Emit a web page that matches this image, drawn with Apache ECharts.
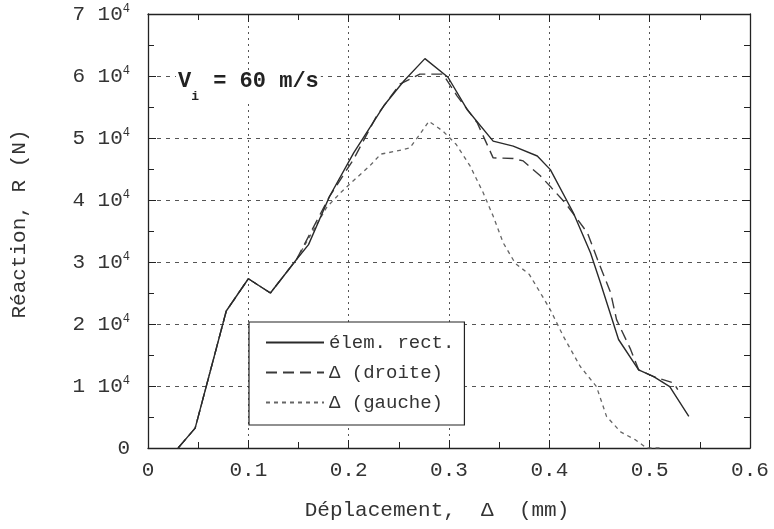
<!DOCTYPE html>
<html>
<head>
<meta charset="utf-8">
<script src="https://cdn.jsdelivr.net/npm/echarts@6/dist/echarts.min.js"></script>
<style>
  html, body { margin: 0; padding: 0; background: #fff; }
  #chart { width: 774px; height: 529px; }
</style>
</head>
<body>
<div id="chart"></div>
<script>
const FONT = '"Liberation Mono", "Courier New", monospace';

// séries (x en mm, y en unités de 10^4 N)
const seriesNames = ['élem. rect.', 'Δ (droite)', 'Δ (gauche)'];

const rectX = [0.030, 0.047, 0.078, 0.100, 0.122, 0.148, 0.160, 0.181, 0.205, 0.235, 0.255, 0.276, 0.299, 0.318, 0.344, 0.364, 0.388, 0.401, 0.424, 0.441, 0.451, 0.469, 0.489, 0.504, 0.520, 0.539];
const rectY = [0, 0.32, 2.21, 2.73, 2.50, 3.04, 3.28, 4.06, 4.76, 5.52, 5.92, 6.28, 5.98, 5.46, 4.95, 4.87, 4.71, 4.49, 3.79, 3.15, 2.66, 1.75, 1.26, 1.15, 0.99, 0.51];

const droiteX = [0.030, 0.047, 0.078, 0.100, 0.122, 0.148, 0.181, 0.205, 0.228, 0.251, 0.271, 0.294, 0.308, 0.328, 0.344, 0.364, 0.374, 0.391, 0.402, 0.416, 0.438, 0.448, 0.461, 0.467, 0.481, 0.489, 0.504, 0.524, 0.528];
const droiteY = [0, 0.32, 2.21, 2.73, 2.50, 3.04, 4.06, 4.66, 5.36, 5.87, 6.03, 6.03, 5.68, 5.25, 4.68, 4.67, 4.63, 4.39, 4.20, 3.95, 3.47, 3.04, 2.51, 2.07, 1.59, 1.26, 1.15, 1.05, 0.94];

const gaucheX = [0.030, 0.047, 0.078, 0.100, 0.122, 0.148, 0.178, 0.192, 0.206, 0.221, 0.232, 0.248, 0.261, 0.271, 0.280, 0.294, 0.307, 0.321, 0.334, 0.344, 0.354, 0.366, 0.380, 0.393, 0.401, 0.414, 0.431, 0.447, 0.457, 0.471, 0.486, 0.497, 0.510];
const gaucheY = [0, 0.32, 2.21, 2.73, 2.50, 3.04, 3.88, 4.12, 4.33, 4.55, 4.74, 4.79, 4.84, 5.06, 5.27, 5.11, 4.90, 4.55, 4.12, 3.74, 3.31, 2.98, 2.80, 2.45, 2.23, 1.80, 1.31, 0.99, 0.51, 0.26, 0.13, 0, 0];

const xTickLabels = ['0', '0.1', '0.2', '0.3', '0.4', '0.5', '0.6'];
const yTickMantissa = ['0', '1', '2', '3', '4', '5', '6', '7'];

const zip = (xs, ys) => xs.map((x, i) => [x, ys[i] * 1e4]);

const chart = echarts.init(document.getElementById('chart'));

const frameAxis = {
    axisLine: { show: true, onZero: false, lineStyle: { color: '#222', width: 1.3 } },
    axisTick: { show: true, inside: true, length: 8, lineStyle: { color: '#222', width: 1 } },
    minorTick: { show: true, splitNumber: 2, length: 6, lineStyle: { color: '#222', width: 1 } },
};

const option = {
    animation: false,
    backgroundColor: '#fff',
    grid: { left: 148, right: 24, top: 14, bottom: 81 },
    title: {
        text: '{v|V}{i|i}{t| = 60 m/s}',
        left: 176,
        top: 60,
        padding: [0, 2, 0, 2],
        backgroundColor: '#fff',
        textStyle: {
            rich: {
                v: { fontFamily: FONT, fontWeight: 'bold', fontSize: 22, color: '#222' },
                i: { fontFamily: FONT, fontWeight: 'bold', fontSize: 13, color: '#222', padding: [30, 1, 0, 0] },
                t: { fontFamily: FONT, fontWeight: 'bold', fontSize: 22, color: '#222' }
            }
        }
    },
    legend: {
        data: seriesNames,
        orient: 'vertical',
        left: 249,
        top: 322,
        padding: [11, 10, 13, 16],
        itemGap: 11,
        itemWidth: 58,
        itemHeight: 20,
        borderColor: '#222',
        borderWidth: 1.2,
        backgroundColor: '#fff',
        itemStyle: { opacity: 0 },
        textStyle: { fontFamily: FONT, fontSize: 19, color: '#333' }
    },
    xAxis: [{
        type: 'value', min: 0, max: 0.6, interval: 0.1, position: 'bottom',
        ...frameAxis,
        splitLine: { show: true, lineStyle: { color: '#555', width: 1, type: [2, 4] } },
        axisLabel: {
            margin: 12, fontFamily: FONT, fontSize: 21, color: '#333',
            formatter: v => xTickLabels[Math.round(v * 10)]
        },
        name: 'Déplacement,  Δ  (mm)',
        nameLocation: 'middle',
        nameGap: 52,
        nameTextStyle: { fontFamily: FONT, fontSize: 21, color: '#333', padding: [0, 24, 0, 0] }
    }, {
        type: 'value', min: 0, max: 0.6, interval: 0.1, position: 'top',
        ...frameAxis,
        splitLine: { show: false },
        axisLabel: { show: false }
    }],
    yAxis: [{
        type: 'value', min: 0, max: 70000, interval: 10000, position: 'left',
        ...frameAxis,
        splitLine: { show: true, lineStyle: { color: '#555', width: 1, type: [4, 5] } },
        axisLabel: {
            margin: 18, color: '#333',
            formatter: v => {
                const m = Math.round(v / 1e4);
                return m === 0 ? '{n|0}' : '{n|' + yTickMantissa[m] + ' 10}{s|4}';
            },
            rich: {
                n: { fontFamily: FONT, fontSize: 21, color: '#333' },
                s: { fontFamily: FONT, fontSize: 12, color: '#333', padding: [0, 0, 10, 0] }
            }
        },
        name: 'Réaction, R (N)',
        nameLocation: 'middle',
        nameGap: 118,
        nameTextStyle: { fontFamily: FONT, fontSize: 21, color: '#333', padding: [0, 0, 0, 14] }
    }, {
        type: 'value', min: 0, max: 70000, interval: 10000, position: 'right',
        ...frameAxis,
        splitLine: { show: false },
        axisLabel: { show: false }
    }],
    series: [{
        name: seriesNames[0], type: 'line', symbol: 'none', z: 5,
        data: zip(rectX, rectY),
        itemStyle: { color: '#2a2a2a' },
        lineStyle: { color: '#2a2a2a', width: 1.4, type: 'solid' }
    }, {
        name: seriesNames[1], type: 'line', symbol: 'none', z: 4,
        data: zip(droiteX, droiteY),
        itemStyle: { color: '#3a3a3a' },
        lineStyle: { color: '#3a3a3a', width: 1.4, type: [11, 6] }
    }, {
        name: seriesNames[2], type: 'line', symbol: 'none', z: 3,
        data: zip(gaucheX, gaucheY),
        itemStyle: { color: '#666' },
        lineStyle: { color: '#666', width: 1.3, type: [4, 4] }
    }]
};

chart.setOption(option);
</script>
</body>
</html>
